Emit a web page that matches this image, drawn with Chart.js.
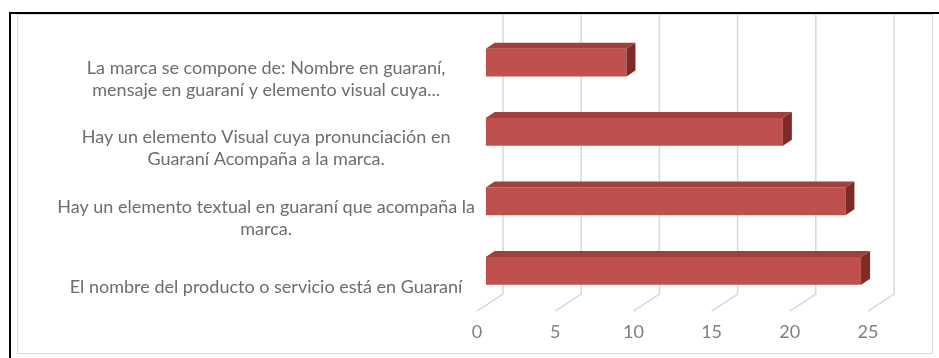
<!DOCTYPE html>
<html><head><meta charset="utf-8">
<script src="https://cdn.jsdelivr.net/npm/chart.js@4/dist/chart.umd.min.js"></script>
<style>html,body{margin:0;padding:0;background:#fff;overflow:hidden;}</style>
</head><body>
<canvas id="c" width="939" height="358"></canvas>
<script>
const categories = [
  ["La marca se compone de: Nombre en guaraní,", "mensaje en guaraní y elemento visual cuya..."],
  ["Hay un elemento Visual cuya pronunciación en", "Guaraní Acompaña a la marca."],
  ["Hay un elemento textual en guaraní que acompaña la", "marca."],
  ["El nombre del producto o servicio está en Guaraní"]
];
const values = [9, 19, 23, 24];
const xTicks = [0, 5, 10, 15, 20, 25];

const FONT = "Lato";
const depthPlugin = {
  id: 'depth3d',
  beforeDraw(chart) {
    const ctx = chart.ctx;
    ctx.save();
    ctx.fillStyle = '#fff';
    ctx.fillRect(0, 0, chart.width, chart.height);
    ctx.fillStyle = '#000';
    ctx.fillRect(9, 12, chart.width - 9, 2);
    ctx.fillRect(9, 12, 2, chart.height - 12);
    ctx.strokeStyle = '#d9d9d9';
    ctx.lineWidth = 1;
    ctx.strokeRect(17.5, 14.5, 915, 339);
    ctx.restore();
  },
  beforeDatasetsDraw(chart) {
    const {ctx, chartArea: a, scales: {x}} = chart;
    ctx.save();
    ctx.strokeStyle = '#d9d9d9';
    ctx.lineWidth = 1.5;
    x.ticks.forEach(t => {
      const px = x.getPixelForValue(t.value);
      ctx.beginPath();
      ctx.moveTo(px + 26, 15);
      ctx.lineTo(px + 26, a.bottom - 17);
      ctx.lineTo(px, a.bottom);
      ctx.stroke();
    });
    ctx.restore();
    ctx.save();
    ctx.translate(8.7, -5.7);
  },
  afterDatasetsDraw(chart) {
    const ctx = chart.ctx;
    const meta = chart.getDatasetMeta(0);
    const dx = 9, dy = -6;
    meta.data.forEach(bar => {
      const p = bar.getProps(['x', 'y', 'base', 'height'], true);
      const top = p.y - p.height / 2, bot = p.y + p.height / 2;
      const l = p.base, r = p.x;
      ctx.fillStyle = '#a13f3c';
      ctx.beginPath();
      ctx.moveTo(l, top); ctx.lineTo(r, top); ctx.lineTo(r + dx, top + dy); ctx.lineTo(l + dx, top + dy);
      ctx.closePath(); ctx.fill();
      ctx.fillStyle = '#7c2b28';
      ctx.beginPath();
      ctx.moveTo(r, top); ctx.lineTo(r + dx, top + dy); ctx.lineTo(r + dx, bot + dy); ctx.lineTo(r, bot);
      ctx.closePath(); ctx.fill();
    });
    ctx.restore();
  }
};

new Chart(document.getElementById('c'), {
  type: 'bar',
  data: {
    labels: categories,
    datasets: [{
      data: values,
      backgroundColor: '#c0504d',
      borderWidth: 0,
      barPercentage: 0.4,
      categoryPercentage: 1.0
    }]
  },
  options: {
    indexAxis: 'y',
    responsive: false,
    animation: false,
    layout: { padding: { top: 33.5, bottom: 5.2, right: 71, left: 0 } },
    plugins: { legend: { display: false }, tooltip: { enabled: false } },
    scales: {
      x: {
        type: 'linear', min: 0, max: 25,
        afterBuildTicks: s => { s.ticks = xTicks.map(v => ({ value: v })); },
        grid: { display: false, drawTicks: false },
        border: { display: false },
        ticks: { color: '#7f7f7f', font: { family: FONT, size: 18 }, padding: 10 }
      },
      y: {
        type: 'category',
        afterFit: s => { s.width = 477; },
        grid: { display: false, drawTicks: false },
        border: { display: false },
        ticks: {
          crossAlign: 'center', padding: 2, labelOffset: 11,
          color: '#6d6d6d', font: { family: FONT, size: 18, lineHeight: 1.22 }
        }
      }
    }
  },
  plugins: [depthPlugin]
});
</script>
</body></html>
